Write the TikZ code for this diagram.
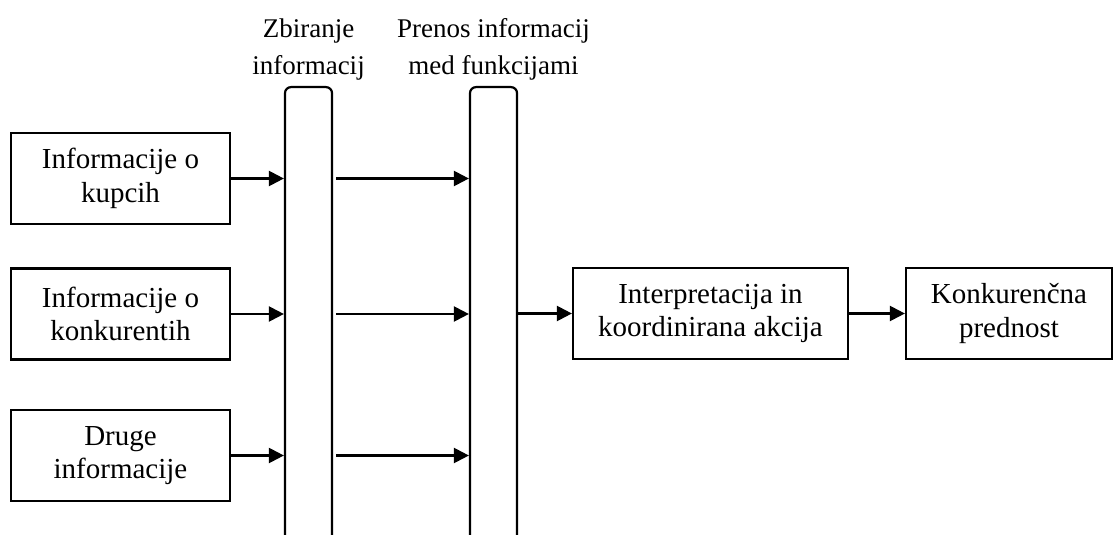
\documentclass[tikz,border=0pt]{standalone}
\usepackage{fontspec}
\setmainfont{Liberation Serif}
\usetikzlibrary{arrows.meta, positioning}

\tikzset{
	infobox/.style={draw, line width=1.1pt, minimum width=109.5pt, minimum height=45.5pt, align=center, inner sep=0pt, font=\fontsize{14.5}{16.75}\selectfont},
	barbox/.style={draw, line width=1.1pt, rounded corners=3pt, minimum width=23.5pt, minimum height=260pt, inner sep=0pt},
	bartitle/.style={align=center, inner sep=0pt, font=\fontsize{13.5}{18.5}\selectfont},
	arr/.style={line width=1.1pt, -{Triangle[length=7.5pt, width=7.5pt]}},
}

\begin{document}
\begin{tikzpicture}[x=0.5pt, y=-0.5pt]
    							\clip (0,0) rectangle (1114,535);

    							% sources
    							\node[infobox] (kupci) at (120.5,178.5) {Informacije o\\kupcih};
    							\node[infobox] (konkurenti) at (120.5,314) {Informacije o\\konkurentih};
    							\node[infobox] (druge) at (120.5,455.5) {Druge\\informacije};

    							% the two bars
    							\node[barbox, anchor=north] (zbiranje) at (308.5,86) {};
    							\node[barbox, anchor=north] (prenos) at (493.5,86) {};
    							\node[bartitle, above=2.5pt of zbiranje] (zbiranjeT) {Zbiranje\\informacij};
    							\node[bartitle, above=2.5pt of prenos] (prenosT) {Prenos informacij\\med funkcijami};

    							\node[infobox, minimum width=137.5pt] (akcija) at (710.5,313.5) {Interpretacija in\\koordinirana akcija};
    							\node[infobox, minimum width=103pt] (prednost) at (1009,313.5) {Konkurenčna\\prednost};

    							\foreach \src in {kupci, konkurenti, druge} {
    								\draw[arr] (\src.east) -- (\src.east -| zbiranje.west);
    								\draw[arr] ([xshift=1.5pt]\src.east -| zbiranje.east) -- (\src.east -| prenos.west);
    							}

    							\draw[arr] (akcija.west -| prenos.east) -- (akcija.west);
    							\draw[arr] (akcija) -- (prednost);
\end{tikzpicture}
\end{document}
